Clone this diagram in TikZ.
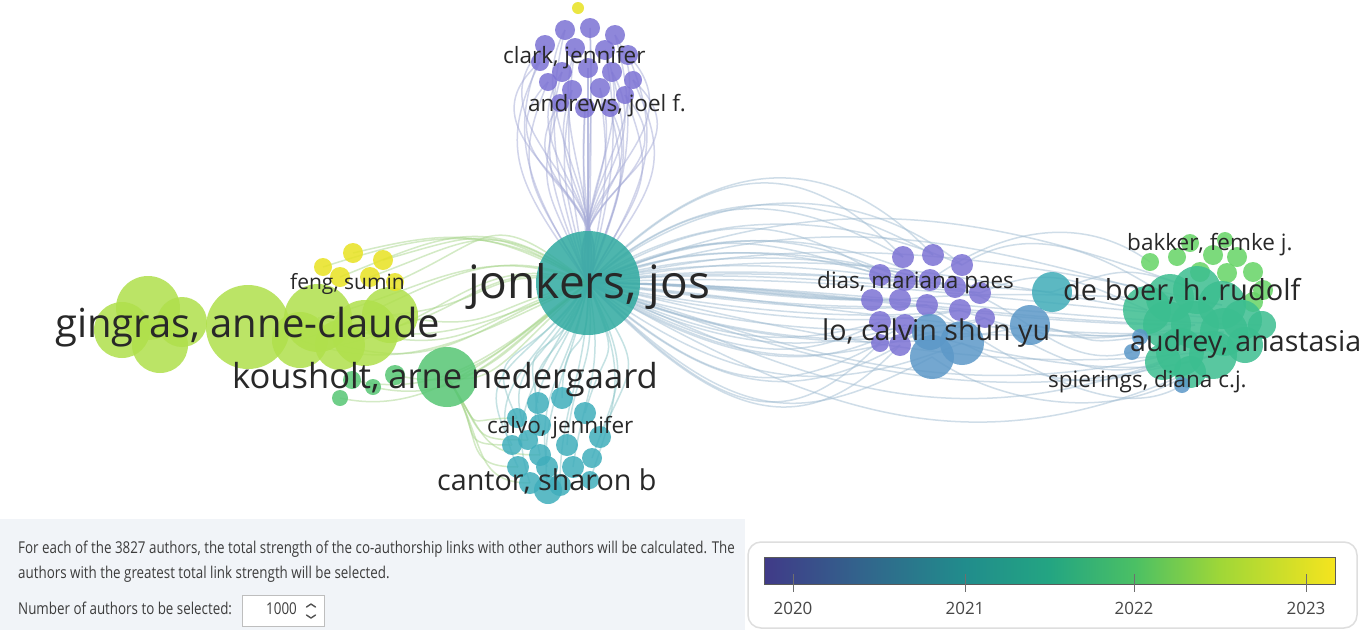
\documentclass[tikz,border=0pt]{standalone}
\usepackage{fontspec}
\setmainfont{Open Sans}
\newfontfamily\condfont[FakeStretch=0.82]{Open Sans}
\usetikzlibrary{calc}
\definecolor{purp}{RGB}{124,114,212}
\definecolor{bluq}{RGB}{92,152,200}
\definecolor{tealJ}{RGB}{48,170,160}
\definecolor{tealB}{RGB}{64,174,188}
\definecolor{greenK}{RGB}{86,198,116}
\definecolor{lime}{RGB}{176,224,76}
\definecolor{yel}{RGB}{232,226,34}
\definecolor{sea}{RGB}{60,190,144}
\definecolor{lgreen}{RGB}{102,212,102}
\definecolor{deb}{RGB}{64,172,184}
\definecolor{txt}{RGB}{40,40,40}
\definecolor{linkb}{RGB}{160,188,210}
\definecolor{linkp}{RGB}{165,170,215}
\definecolor{linkg}{RGB}{168,214,140}
\definecolor{linkt}{RGB}{140,198,200}
\definecolor{panel}{RGB}{241,244,248}
\definecolor{frame}{RGB}{222,222,222}
\definecolor{spinb}{RGB}{190,190,190}
\definecolor{chev}{RGB}{80,80,80}
\definecolor{tickc}{RGB}{110,110,110}
\definecolor{yrc}{RGB}{70,70,70}
\definecolor{infoc}{RGB}{60,60,60}
\definecolor{barb}{RGB}{90,90,90}
\definecolor{v0}{RGB}{64,58,136}
\definecolor{v1}{RGB}{50,100,140}
\definecolor{v2}{RGB}{33,140,140}
\definecolor{v3}{RGB}{35,165,130}
\definecolor{v4}{RGB}{75,192,100}
\definecolor{v5}{RGB}{160,215,55}
\definecolor{v6}{RGB}{245,228,30}
\pgfdeclarehorizontalshading{viridisbar}{100bp}{color(0bp)=(v0); color(25bp)=(v0); color(33.5bp)=(v1); color(42.5bp)=(v2); color(50bp)=(v3); color(57.5bp)=(v4); color(65bp)=(v5); color(75bp)=(v6); color(100bp)=(v6)}
\pgfdeclarelayer{bg}
\pgfsetlayers{bg,main}
\tikzset{
  bub/.style={circle, inner sep=0pt, draw=none, fill opacity=0.85},
  link/.style={line width=1.5pt, draw opacity=0.5},
  lab/.style={anchor=base west, inner sep=0pt, text=txt},
  small/.style={lab, font=\fontsize{22.5}{24}\selectfont},
  tick/.style={draw=tickc, line width=1pt},
  yr/.style={anchor=base, inner sep=0pt, text=yrc, font=\fontsize{17}{20}\selectfont},
  info/.style={anchor=base west, inner sep=0pt, text=infoc, font=\condfont\fontsize{16.3}{20}\selectfont},
  chevron/.style={line width=1.4pt, draw=chev, line cap=round, line join=round},
}
\begin{document}
\begin{tikzpicture}[x=1pt,y=-1pt]
\useasboundingbox (0,0) rectangle (1360,630);
\begin{pgfonlayer}{bg}
\fill[white] (0,0) rectangle (1360,630);
\end{pgfonlayer}

% central node
\node[bub, fill=tealJ, minimum size=104pt] (J) at (588,283) {};

% top cluster
\node[bub, fill=yel, minimum size=12pt] (t0) at (578,8) {};
\foreach \n/\x/\y/\r [count=\c] in {t1/565/30/10, t2/590/28/10, t3/615/35/10, t4/545/45/10, t5/575/48/10, t6/605/50/10, t7/628/55/10, t8/540/62/9, t9/562/72/10, t10/588/68/10, t11/612/72/10, t12/633/80/9, t13/548/82/9, t14/572/90/10, t15/600/88/10, t16/625/95/9, t17/560/103/9, t18/585/108/10, t19/610/108/9}{
  \node[bub, fill=purp, minimum size={2*\r*1pt}] (\n) at (\x,\y) {};
  \begin{pgfonlayer}{bg}
  \draw[link, linkp] (J.center) .. controls +({(\x-588)*1.4},-95) and +({(\x-588)*0.95},90) .. (\n.center);
  \draw[link, linkp] (J.center) .. controls +({(588-\x)*0.9},-90) and +({(\x-588)*1.9},80) .. (\n.center);
  \end{pgfonlayer}
}

% bottom cluster
\foreach \n/\x/\y/\r [count=\c] in {b1/538/403/11, b2/562/398/11, b3/585/413/11, b4/517/418/10, b5/540/425/11, b6/600/437/11, b7/528/440/10, b8/512/445/10, b9/567/445/11, b10/540/455/11, b11/592/458/10, b12/518/467/11, b13/547/467/11, b14/573/467/11, b15/530/483/11, b16/560/485/11, b17/590/480/9, b18/548/490/14}{
  \node[bub, fill=tealB, minimum size={2*\r*1pt}] (\n) at (\x,\y) {};
  \begin{pgfonlayer}{bg}
  \draw[link, linkt] (J.center) .. controls +({(\x-560)*1.4},90) and +({(\x-560)*0.9},-80) .. (\n.center);
  \end{pgfonlayer}
}

% right purple cluster
\foreach \n/\x/\y/\r [count=\c] in {p1/903/257/11, p2/933/255/11, p3/962/265/11, p4/880/275/11, p5/905/280/11, p6/930/280/11, p7/955/287/11, p8/980/293/11, p9/872/300/11, p10/900/300/11, p11/927/305/11, p12/960/310/11, p13/985/318/10, p14/880/322/11, p15/905/325/11, p16/900/345/11, p17/880/343/9}{
  \node[bub, fill=purp, minimum size={2*\r*1pt}] (\n) at (\x,\y) {};
  \begin{pgfonlayer}{bg}
  \draw[link, linkb] (J.center) .. controls +(120,{(\y-300)*2.4}) and +(-110,{(\y-300)*1.4}) .. (\n.center);
  \draw[link, linkb] (J.center) .. controls +(140,{(\y-300)*3.3}) and +(-90,{(\y-300)*2.1}) .. (\n.center);
  \end{pgfonlayer}
}
\foreach \n/\x/\y/\r/\col in {q3/930/332/18/bluq, q1/932/357/22/bluq, q2/962/343/22/bluq, q4/1030/325/20/bluq, q5/1052/292/20/deb}{
  \node[bub, fill=\col, minimum size={2*\r*1pt}] (\n) at (\x,\y) {};
  \begin{pgfonlayer}{bg}
  \draw[link, linkb] (J.center) .. controls +(150,{(\y-300)*2.6}) and +(-130,{(\y-300)*1.2}) .. (\n.center);
  \end{pgfonlayer}
}

% far right cluster
\foreach \n/\x/\y/\r in {g11/1150/262/9, g1/1177/257/9, g2/1190/243/9, g10/1225/240/8, g3/1213/255/10, g4/1237/257/10, g5/1200/272/10, g6/1227/273/10, g7/1253/272/10, g8/1263/290/10, g9/1253/302/10}{
  \node[bub, fill=lgreen, minimum size={2*\r*1pt}] (\n) at (\x,\y) {};
}
\foreach \n/\x/\y/\r [count=\c] in {r1/1147/310/24, r2/1170/298/24, r3/1197/290/24, r4/1222/305/24, r5/1167/325/24, r6/1195/325/24, r7/1224/332/24, r8/1242/320/20, r9/1180/352/24, r10/1213/355/24, r11/1163/362/18, r12/1190/372/16, r13/1245/345/18, r14/1262/325/14}{
  \node[bub, fill=sea, minimum size={2*\r*1pt}] (\n) at (\x,\y) {};
  \begin{pgfonlayer}{bg}
  \draw[link, linkb] (J.center) .. controls +(230,{(\y-318)*2.8-20}) and +(-220,{(\y-318)*2.2-20}) .. (\n.center);
  \end{pgfonlayer}
}
\foreach \n/\x/\y/\r in {s3/1140/337/8, s1/1132/352/8, s2/1182/385/8}{
  \node[bub, fill=bluq, minimum size={2*\r*1pt}] (\n) at (\x,\y) {};
}
\begin{pgfonlayer}{bg}
\foreach \a/\b/\w in {p8/r1/-30, p12/r5/25, p13/r9/40, p3/r2/-45, q2/r11/35, q4/r6/15, q5/r3/-25, p7/s1/20, p11/s2/45, q1/r12/50, p6/g11/-50, q4/s3/10, p10/r4/-10, p15/r10/30, q3/r7/5}{
  \draw[link, linkb] (\a.center) .. controls +(70,\w) and +(-70,\w) .. (\b.center);
}
\end{pgfonlayer}

% left cluster
\foreach \n/\x/\y/\r in {l1/148/308/32, l2/122/330/28, l3/160/345/28, l4/182/322/25, l5/248/327/42}{
  \node[bub, fill=lime, minimum size={2*\r*1pt}] (\n) at (\x,\y) {};
}
\foreach \n/\x/\y/\r [count=\c] in {l10/300/340/28, l6/318/318/34, l9/340/345/25, l7/365/333/33, l8/390/315/28}{
  \node[bub, fill=lime, minimum size={2*\r*1pt}] (\n) at (\x,\y) {};
  \begin{pgfonlayer}{bg}
  \draw[link, linkg] (J.center) .. controls +(-110,{-60+8*\c}) and +(110,{-40+6*\c}) .. (\n.center);
  \draw[link, linkg] (J.center) .. controls +(-110,{55-6*\c}) and +(110,{45-5*\c}) .. (\n.center);
  \end{pgfonlayer}
}
\foreach \n/\x/\y/\r [count=\c] in {y1/353/253/10, y2/383/260/10, y3/323/267/9, y4/370/277/10, y5/340/277/10, y6/395/282/9}{
  \node[bub, fill=yel, minimum size={2*\r*1pt}] (\n) at (\x,\y) {};
  \begin{pgfonlayer}{bg}
  \draw[link, linkg] (J.center) .. controls +(-100,{-50-5*\c}) and +(100,{-20-4*\c}) .. (\n.center);
  \end{pgfonlayer}
}
\node[bub, fill=greenK, minimum size=60pt] (K) at (447,377) {};
\foreach \n/\x/\y/\r in {k1/340/398/8, k2/373/387/8, k3/352/380/9, k4/395/375/10}{
  \node[bub, fill=greenK, minimum size={2*\r*1pt}] (\n) at (\x,\y) {};
  \begin{pgfonlayer}{bg}
  \draw[link, linkg] (J.center) .. controls +(-90,70) and +(90,20) .. (\n.center);
  \end{pgfonlayer}
}
\begin{pgfonlayer}{bg}
\draw[link, linkg] (J.center) .. controls +(-60,40) and +(60,-20) .. (K.center);
\draw[link, linkg] (J.center) .. controls +(-80,70) and +(50,10) .. (K.center);
\foreach \b in {b4,b8,b12,b15,b7,b10}{
  \draw[link, linkg] (K.center) .. controls +(40,60) and +(-60,0) .. (\b.center);
}
\end{pgfonlayer}

% labels
\node[small] (Lclark) at (503,63) {clark, jennifer};
\node[small] (Landrews) at (528,111) {andrews, joel f.};
\node[lab, font=\fontsize{21}{24}\selectfont] (Lfeng) at (290,289) {feng, sumin};
\node[lab, font=\fontsize{46}{50}\selectfont] (Ljonkers) at (468,298) {jonkers, jos};
\node[lab, font=\fontsize{40}{44}\selectfont] (Lgingras) at (55,337) {gingras, anne-claude};
\node[lab, font=\fontsize{34.5}{38}\selectfont] (Lkousholt) at (232,388) {kousholt, arne nedergaard};
\node[small] (Lcalvo) at (487,433) {calvo, jennifer};
\node[lab, font=\fontsize{28.7}{32}\selectfont] (Lcantor) at (437,490) {cantor, sharon b};
\node[small] (Ldias) at (817,288) {dias, mariana paes};
\node[lab, font=\fontsize{28.6}{32}\selectfont] (Llo) at (822,340) {lo, calvin shun yu};
\node[lab, font=\fontsize{29}{32}\selectfont] (Ldeboer) at (1063,300) {de boer, h. rudolf};
\node[small] (Lbakker) at (1127,250) {bakker, femke j.};
\node[lab, font=\fontsize{28.6}{32}\selectfont] (Laudrey) at (1130,351) {audrey, anastasia};
\node[small] (Lspierings) at (1048,387) {spierings, diana c.j.};

% bottom-left panel
\fill[panel] (0,519) rectangle (745,630);
\node[info] (info1) at (18,553) {For each of the 3827 authors, the total strength of the co-authorship links with other authors will be calculated. The};
\node[info] (info2) at (18,578) {authors with the greatest total link strength will be selected.};
\node[info] (info3) at (18,614) {Number of authors to be selected:};
\node[draw=spinb, fill=white, line width=0.8pt, minimum width=82pt, minimum height=31pt, inner sep=0pt] (spin) at (283,611) {};
\node[info, anchor=base east] (spinval) at (297,614) {1000};
\coordinate (up) at (311,604);
\coordinate (dn) at (311,618);
\draw[chevron] ($(up)+(-4.5,3)$) -- (up) -- ($(up)+(4.5,3)$);
\draw[chevron] ($(dn)+(-4.5,-3)$) -- (dn) -- ($(dn)+(4.5,-3)$);

% legend
\draw[frame, line width=1.5pt, fill=white, rounded corners=13pt] (748,542) rectangle (1357,628);
\shade[shading=viridisbar, draw=barb, line width=0.6pt] (764,557) rectangle (1335,584);
\foreach \xx/\yy in {793/2020, 965/2021, 1134/2022, 1306/2023}{
  \draw[tick] (\xx,574) -- (\xx,592);
  \node[yr] (y\yy) at (\xx,614) {\yy};
}
\end{tikzpicture}
\end{document}
